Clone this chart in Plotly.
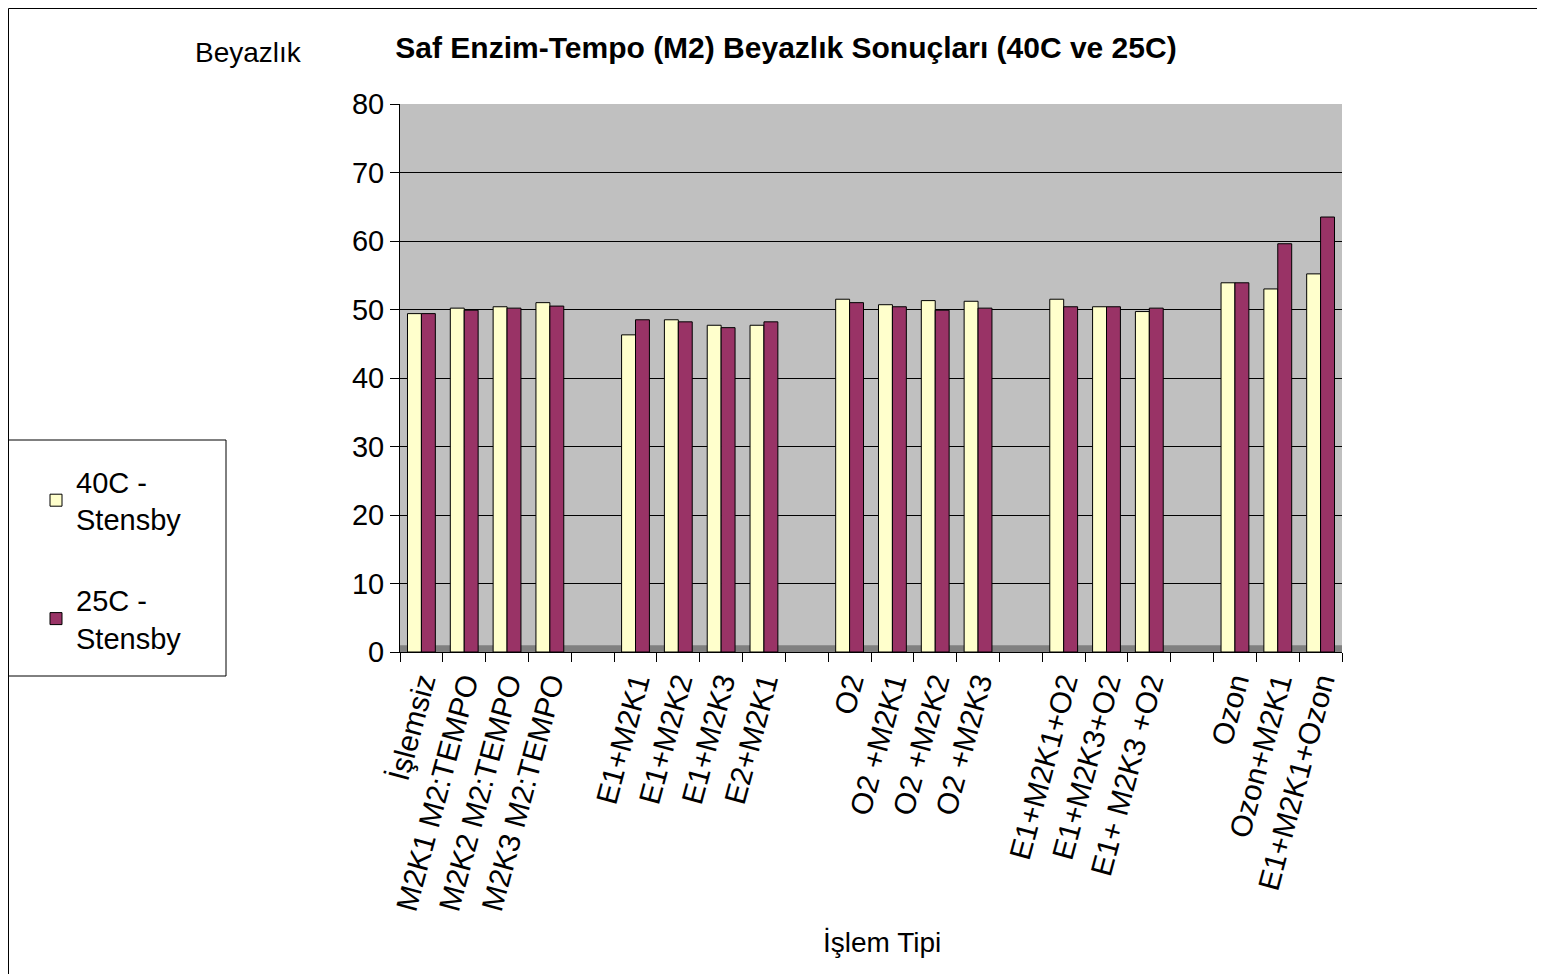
import plotly.graph_objects as go

categories = ["İşlemsiz", "M2K1 M2:TEMPO", "M2K2 M2:TEMPO", "M2K3 M2:TEMPO", "\u200b",
              "E1+M2K1", "E1+M2K2", "E1+M2K3", "E2+M2K1", "\u200b\u200b",
              "O2", "O2 +M2K1", "O2 +M2K2", "O2 +M2K3", "\u200b\u200b\u200b",
              "E1+M2K1+O2", "E1+M2K3+O2", "E1+ M2K3 +O2", "\u200b\u200b\u200b\u200b",
              "Ozon", "Ozon+M2K1", "E1+M2K1+Ozon"]
values_40c = [49.4, 50.2, 50.4, 51.0, None,
              46.3, 48.5, 47.7, 47.7, None,
              51.5, 50.7, 51.3, 51.2, None,
              51.5, 50.4, 49.7, None,
              53.9, 53.0, 55.2]
values_25c = [49.4, 49.9, 50.2, 50.5, None,
              48.5, 48.2, 47.35, 48.2, None,
              51.0, 50.4, 49.9, 50.2, None,
              50.4, 50.4, 50.2, None,
              53.9, 59.6, 63.5]
series_names = ["40C -<br>Stensby", "25C -<br>Stensby"]
y_ticks = [0, 10, 20, 30, 40, 50, 60, 70, 80]

# page has an 8px body margin; work in reference-image pixels
OFF = 8
W, H = 1545 - OFF, 974 - OFF
L = 400 - OFF
T = 104 - OFF
B = H - (652 - OFF)
R = W - (1342 - OFF)
pw, ph = W - L - R, H - T - B

def rx(x):
    return (x - OFF - L) / pw

def ry(y):
    return (H - B - (y - OFF)) / ph

FONT = "Liberation Sans, Arial, sans-serif"

fig = go.Figure()
fig.add_trace(go.Bar(x=categories, y=values_40c, name=series_names[0],
                     marker=dict(color="#FFFFCC", line=dict(color="black", width=1)),
                     legendgroup="a"))
fig.add_trace(go.Bar(x=categories, y=values_25c, name=series_names[1],
                     marker=dict(color="#993366", line=dict(color="black", width=1)),
                     legendgroup="b"))

shapes = [
    # floor strip
    dict(type="rect", xref="paper", yref="y", x0=0, x1=1, y0=0, y1=1.0,
         fillcolor="#808080", line=dict(width=0), layer="below"),
    # legend box
    dict(type="rect", xref="paper", yref="paper", x0=rx(8), x1=rx(226),
         y0=ry(676), y1=ry(440), line=dict(color="black", width=1),
         fillcolor="white", layer="below"),
    # outer chart border
    dict(type="rect", xref="paper", yref="paper", x0=rx(8.5), x1=rx(1700),
         y0=ry(1200), y1=ry(8.5), line=dict(color="black", width=1),
         fillcolor="rgba(0,0,0,0)"),
]

fig.update_layout(
    width=W, height=H,
    margin=dict(l=L, r=R, t=T, b=B, pad=0),
    paper_bgcolor="white",
    plot_bgcolor="#C0C0C0",
    font=dict(family=FONT, size=28, color="black"),
    barmode="group", bargap=0.35, bargroupgap=0.0,
    title=dict(text="<b>Saf Enzim-Tempo (M2) Beyazlık Sonuçları (40C ve 25C)</b>",
               x=(786 - OFF) / W, xanchor="center", y=1 - (47 - OFF) / H, yanchor="middle",
               font=dict(family=FONT, size=30, color="black")),
    xaxis=dict(type="category", tickson="boundaries", ticks="outside", ticklen=9,
               tickcolor="black", tickangle=-75, showgrid=False,
               showline=True, linecolor="black", linewidth=1,
               tickfont=dict(family=FONT, size=30, color="black")),
    yaxis=dict(range=[0, 80], tickvals=y_ticks, ticks="outside", ticklen=9,
               tickcolor="black", showgrid=True, gridcolor="black", gridwidth=1,
               showline=True, linecolor="black", linewidth=1, zeroline=False,
               tickfont=dict(family=FONT, size=29, color="black")),
    legend=dict(x=rx(36), y=ry(456), xanchor="left", yanchor="top",
                bgcolor="rgba(0,0,0,0)", borderwidth=0,
                traceorder="grouped", tracegroupgap=40,
                font=dict(family=FONT, size=29, color="black")),
    shapes=shapes,
    annotations=[
        dict(text="Beyazlık", xref="paper", yref="paper", x=rx(248), y=ry(52),
             xanchor="center", yanchor="middle", showarrow=False,
             font=dict(family=FONT, size=28, color="black")),
        dict(text="İşlem Tipi", xref="paper", yref="paper", x=rx(882), y=ry(942),
             xanchor="center", yanchor="middle", showarrow=False,
             font=dict(family=FONT, size=28, color="black")),
    ],
)

fig.write_html("out.html")
